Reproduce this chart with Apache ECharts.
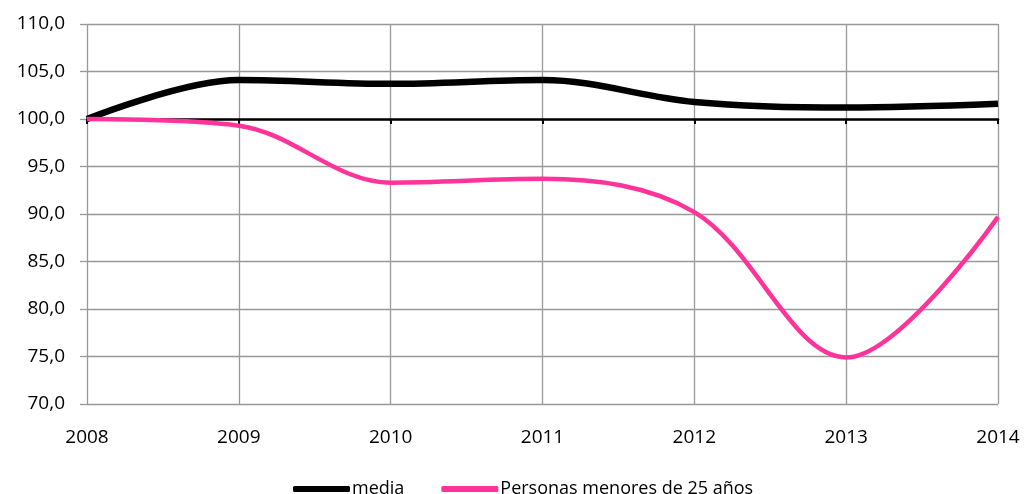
<!DOCTYPE html>
<html>
<head>
<meta charset="utf-8">
<script src="https://cdn.jsdelivr.net/npm/echarts@6/dist/echarts.min.js"></script>
<style>
  html, body { margin: 0; padding: 0; background: #fff; }
  #chart { width: 1025px; height: 494px; }
</style>
</head>
<body>
<div id="chart"></div>
<script>
// Index values (2008 = 100)
const years = ['2008', '2009', '2010', '2011', '2012', '2013', '2014'];
const media = [100.0, 104.1, 103.7, 104.1, 101.8, 101.2, 101.6];
const menores25 = [100.0, 99.3, 93.3, 93.7, 90.2, 74.9, 89.7];
const seriesNames = ['media', 'Personas menores de 25 años'];

const FONT = 'Open Sans';
const chart = echarts.init(document.getElementById('chart'), null, { renderer: 'canvas' });

chart.setOption({
  animation: false,
  backgroundColor: '#ffffff',
  grid: { left: 87, right: 27, top: 24, bottom: 90, containLabel: false },
  legend: {
    bottom: -9,
    left: 288,
    itemWidth: 57,
    itemHeight: 6,
    itemGap: 37,
    textStyle: { fontFamily: FONT, fontSize: 18, color: '#000', padding: [0, 0, 0, -3] },
    data: [
      { name: seriesNames[0], icon: 'roundRect', itemStyle: { color: '#000000' } },
      { name: seriesNames[1], icon: 'roundRect', itemStyle: { color: '#FF3399' } }
    ]
  },
  xAxis: [
    {
      type: 'category',
      data: years,
      boundaryGap: false,
      axisLine: { show: false },
      axisTick: { show: false },
      axisLabel: { fontFamily: FONT, fontSize: 19, color: '#000', margin: 24 },
      splitLine: { show: true, lineStyle: { color: '#999999', width: 1.3 } }
    },
    {
      // category axis crossing the value axis at 100
      type: 'category',
      data: years,
      boundaryGap: false,
      position: 'bottom',
      offset: -285,
      axisLine: { show: true, lineStyle: { color: '#000', width: 2.5 } },
      axisTick: { show: true, length: 5, lineStyle: { color: '#000', width: 2 } },
      axisLabel: { show: false },
      splitLine: { show: false }
    }
  ],
  yAxis: {
    type: 'value',
    min: 70,
    max: 110,
    interval: 5,
    axisLine: { show: false },
    axisTick: { show: true, length: 7, lineStyle: { color: '#999999', width: 1.3 } },
    axisLabel: {
      fontFamily: FONT, fontSize: 19, color: '#000', margin: 22,
      formatter: v => v.toFixed(1).replace('.', ',')
    },
    splitLine: { show: true, lineStyle: { color: '#999999', width: 1.3 } }
  },
  series: [
    {
      name: seriesNames[0],
      type: 'line',
      data: media,
      smooth: 0.35,
      symbol: 'none',
      lineStyle: { color: '#000000', width: 6.5 },
      itemStyle: { color: '#000000' },
      z: 3
    },
    {
      name: seriesNames[1],
      type: 'line',
      data: menores25,
      smooth: 0.35,
      symbol: 'none',
      lineStyle: { color: '#FF3399', width: 4.5 },
      itemStyle: { color: '#FF3399' },
      z: 4
    }
  ]
});
</script>
</body>
</html>
